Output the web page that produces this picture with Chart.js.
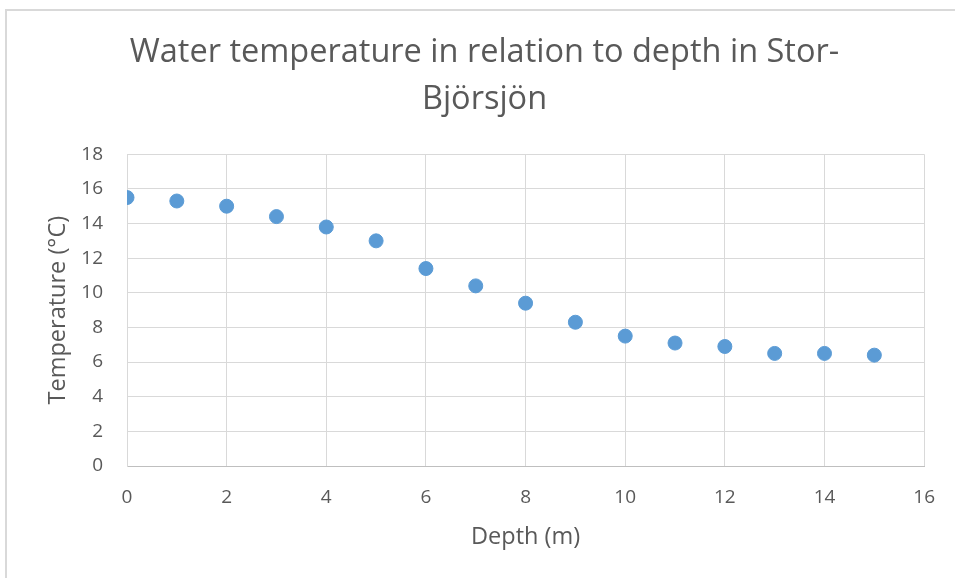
<!DOCTYPE html>
<html>
<head>
<meta charset="utf-8">
<script src="https://cdn.jsdelivr.net/npm/chart.js@4"></script>
<style>
  html, body { margin: 0; padding: 0; background: #fff; overflow: hidden; }
  #wrap { position: relative; width: 955px; height: 578px; }
  #frame {
    position: absolute; left: 5px; top: 9px; width: 1000px; height: 1000px;
    border: 2px solid #d9d9d9; box-sizing: border-box; pointer-events: none;
  }
  canvas { position: absolute; left: 0; top: 0; }
</style>
</head>
<body>
<div id="wrap">
  <canvas id="depthChart" width="955" height="578"></canvas>
  <div id="frame"></div>
</div>
<script>
/* eslint-disable max-len */

let depths = [0, 1, 2, 3, 4, 5, 6, 7, 8, 9, 10, 11, 12, 13, 14, 15]
let temperatures = [15.5, 15.3, 15.0, 14.4, 13.8, 13.0, 11.4, 10.4, 9.4, 8.3, 7.5, 7.1, 6.9, 6.5, 6.5, 6.4]

let xTicks = [0, 2, 4, 6, 8, 10, 12, 14, 16]
let yTicks = [0, 2, 4, 6, 8, 10, 12, 14, 16, 18]

let textColor = '#595959'
let gridColor = '#d9d9d9'
let fontFamily = '"Open Sans", "Noto Sans", sans-serif'

let points = depths.map((d, i) => ({x: d, y: temperatures[i]}))

let depthChart = new Chart(document.getElementById('depthChart'), {
  type: 'scatter',
  data: {
    datasets: [{
      label: 'Temperature',
      data: points,
      backgroundColor: '#5b9bd5',
      borderColor: '#5b9bd5',
      borderWidth: 1,
      pointRadius: 7,
    }],
  },
  options: {
    responsive: false,
    animation: false,
    layout: {
      padding: {left: 44, right: 30, top: 0, bottom: 0},
    },
    plugins: {
      legend: {display: false},
      tooltip: {enabled: false},
      title: {
        display: true,
        text: ['Water temperature in relation to depth in Stor-', 'Björsjön'],
        color: textColor,
        font: {family: fontFamily, size: 32.5, weight: 'normal', lineHeight: 1.45},
        padding: {top: 29, bottom: 31},
      },
    },
    scales: {
      x: {
        type: 'linear',
        min: xTicks[0],
        max: xTicks[xTicks.length - 1],
        afterFit: (scale) => { scale.height = 112 },
        afterBuildTicks: (scale) => { scale.ticks = xTicks.map((v) => ({value: v})) },
        ticks: {
          color: textColor,
          font: {family: fontFamily, size: 19},
          padding: 20,
        },
        grid: {color: gridColor, drawTicks: false},
        border: {color: '#bfbfbf', width: 1},
        title: {
          display: true,
          text: 'Depth (m)',
          color: textColor,
          font: {family: fontFamily, size: 23.5},
          padding: {top: 0, bottom: 27},
        },
      },
      y: {
        type: 'linear',
        min: yTicks[0],
        max: yTicks[yTicks.length - 1],
        afterFit: (scale) => { scale.width = 83 },
        afterBuildTicks: (scale) => { scale.ticks = yTicks.map((v) => ({value: v})) },
        ticks: {
          color: textColor,
          font: {family: fontFamily, size: 19},
          padding: 24,
        },
        grid: {color: gridColor, drawTicks: false},
        border: {color: gridColor, width: 1},
        title: {
          display: true,
          text: 'Temperature (°C)',
          color: textColor,
          font: {family: fontFamily, size: 23.5},
          padding: {top: 0, bottom: 0},
        },
      },
    },
  },
})
</script>
</body>
</html>
